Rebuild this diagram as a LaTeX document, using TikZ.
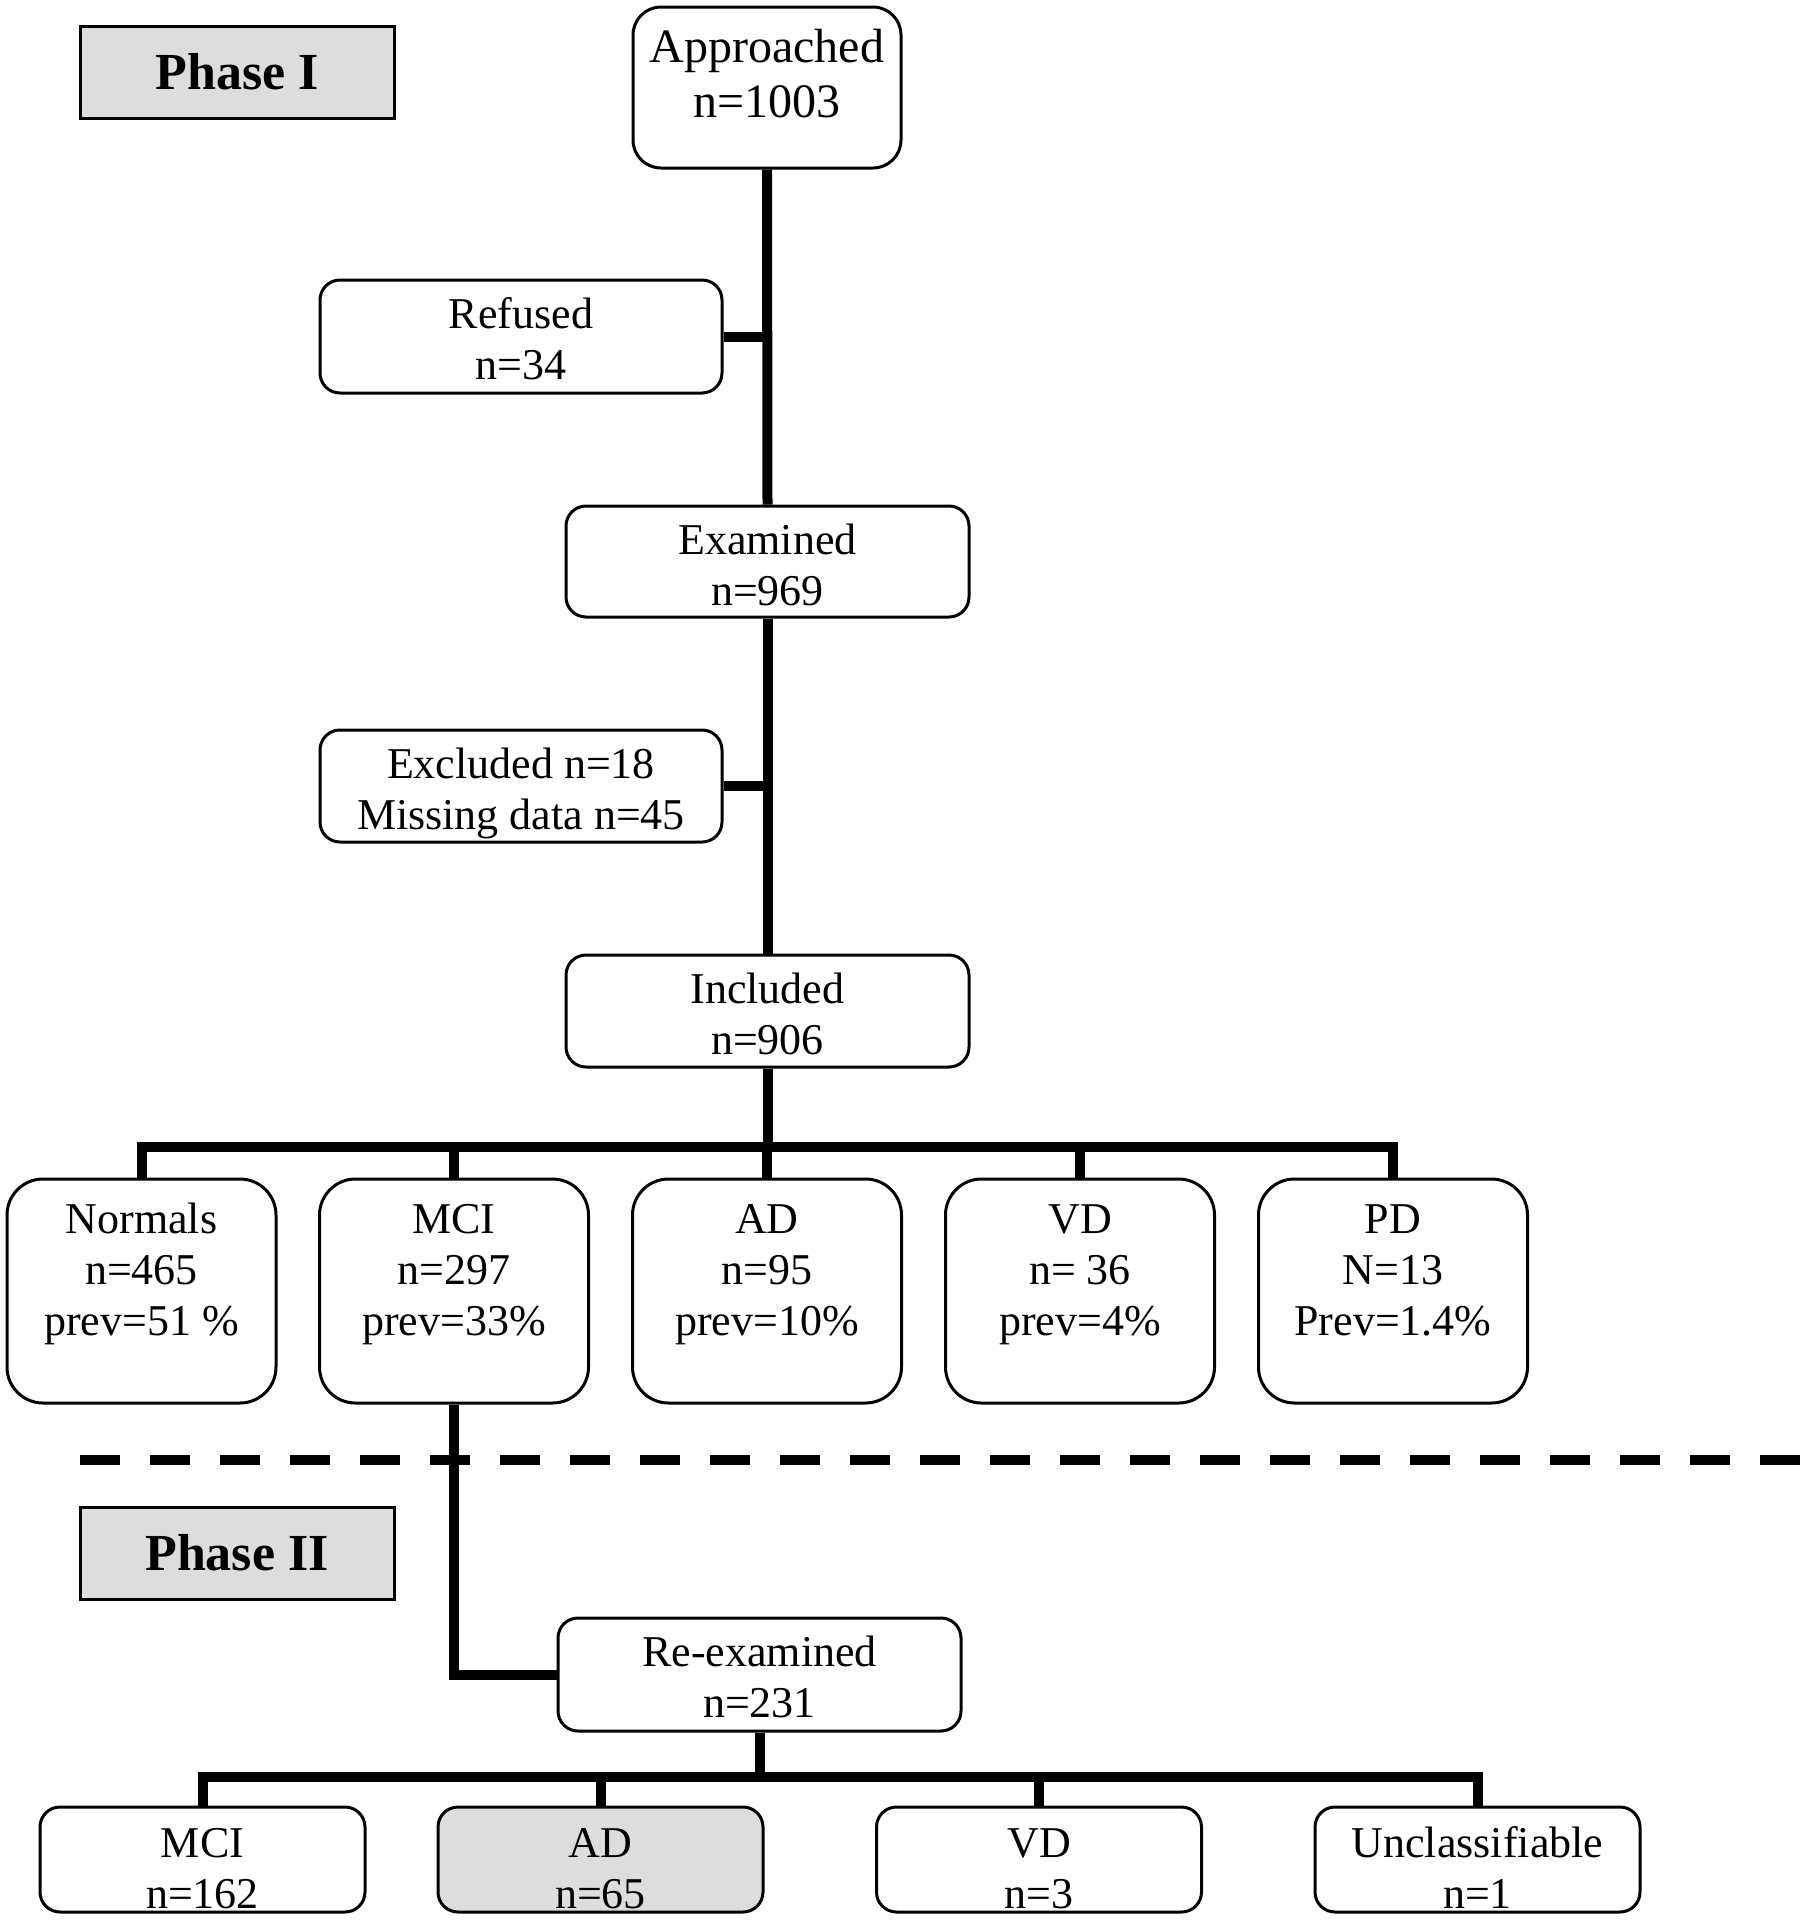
\documentclass[tikz,border=0pt]{standalone}
\usepackage{fontspec}
\setmainfont{Liberation Serif}
\definecolor{boxgray}{RGB}{221,221,221}
\tikzset{
  rbox/.style={draw, line width=3pt, rounded corners=#1, inner sep=0pt},
  phasebox/.style={draw, line width=3pt, fill=boxgray, inner sep=0pt,
    minimum width=314pt, minimum height=92pt,
    font=\fontsize{52}{60}\selectfont\bfseries},
  txt/.style={font=\fontsize{44}{51}\selectfont, align=center, anchor=base, inner sep=0pt},
  bigtxt/.style={font=\fontsize{48}{55}\selectfont, align=center, anchor=base, inner sep=0pt},
  conn/.style={line width=10pt, miter limit=10},
  sep/.style={line width=10pt, dash pattern=on 40pt off 30pt},
}
\begin{document}
\begin{tikzpicture}[x=1pt,y=-1pt]
\useasboundingbox (0,0) rectangle (1800,1920);

% Phase labels
\node[phasebox] (ph1) at (237,72) {Phase I};
\node[phasebox] (ph2) at (237,1553) {Phase II};

% Phase I boxes (text nodes anchored at the baseline of their last line)
\node[rbox=28pt, minimum width=268pt, minimum height=161pt] (appr) at (767,87.5) {};
\node[bigtxt] (appr-t) at (767,117) {Approached\\n=1003};

\node[rbox=20pt, minimum width=402pt, minimum height=113pt] (ref) at (521,336.5) {};
\node[txt] (ref-t) at (521,379) {Refused\\n=34};

\node[rbox=20pt, minimum width=403pt, minimum height=111pt] (exa) at (767.5,561.5) {};
\node[txt] (exa-t) at (767.5,605) {Examined\\n=969};

\node[rbox=20pt, minimum width=402pt, minimum height=112pt] (exc) at (521,786) {};
\node[txt] (exc-t) at (521,829) {Excluded n=18\\Missing data n=45};

\node[rbox=20pt, minimum width=403pt, minimum height=112pt] (inc) at (767.5,1011) {};
\node[txt] (inc-t) at (767.5,1054) {Included\\n=906};

% categories
\foreach \nm/\cx/\tx in {nor/141.5/{Normals\\n=465\\prev=51 \%},
                         mci/454/{MCI\\n=297\\prev=33\%},
                         ad/767/{AD\\n=95\\prev=10\%},
                         vd/1080/{VD\\n= 36\\prev=4\%},
                         pd/1393/{PD\\N=13\\Prev=1.4\%}}{
  \node[rbox=36pt, minimum width=269pt, minimum height=224pt] (\nm) at (\cx,1291) {};
  \node[txt] (\nm-t) at (\cx,1335) {\tx};
}

% Phase II boxes
\node[rbox=20pt, minimum width=403pt, minimum height=113pt] (rex) at (759.5,1674.5) {};
\node[txt] (rex-t) at (759.5,1717) {Re-examined\\n=231};

\foreach \nm/\cx/\tx/\fl in {bmci/202.5/{MCI\\n=162}/white,
                             bad/600.5/{AD\\n=65}/boxgray,
                             bvd/1039/{VD\\n=3}/white,
                             bun/1477.5/{Unclassifiable\\n=1}/white}{
  \node[rbox=20pt, fill=\fl, minimum width=325pt, minimum height=105pt] (\nm) at (\cx,1859.5) {};
  \node[txt] (\nm-t) at (\cx,1908) {\tx};
}

% separator
\coordinate (sepL) at (80,1460);
\coordinate (sepR) at (1800,1460);
\draw[sep] (sepL) -- (sepR);

% connectors phase I
\draw[conn] (appr.south) -- (exa.north);
\draw[conn] (exa.south) -- (inc.north);
\draw[conn] (ref.east) -- (ref.east -| appr.south);
\draw[conn] (exc.east) -- (exc.east -| exa.south);
\coordinate (barY) at (0,1147);
\draw[conn] (inc.south) -- (inc.south |- barY);
\draw[conn] (nor.north) |- (barY -| pd.north) -- (pd.north);
\draw[conn] (mci.north) -- (mci.north |- barY);
\draw[conn] (ad.north) -- (ad.north |- barY);
\draw[conn] (vd.north) -- (vd.north |- barY);

% connectors phase II
\draw[conn] (mci.south) |- (rex.west);
\coordinate (bbarY) at (0,1777);
\draw[conn] (rex.south) -- (rex.south |- bbarY);
\draw[conn] (bmci.north) |- (bbarY -| bun.north) -- (bun.north);
\draw[conn] (bad.north) -- (bad.north |- bbarY);
\draw[conn] (bvd.north) -- (bvd.north |- bbarY);
\end{tikzpicture}
\end{document}
